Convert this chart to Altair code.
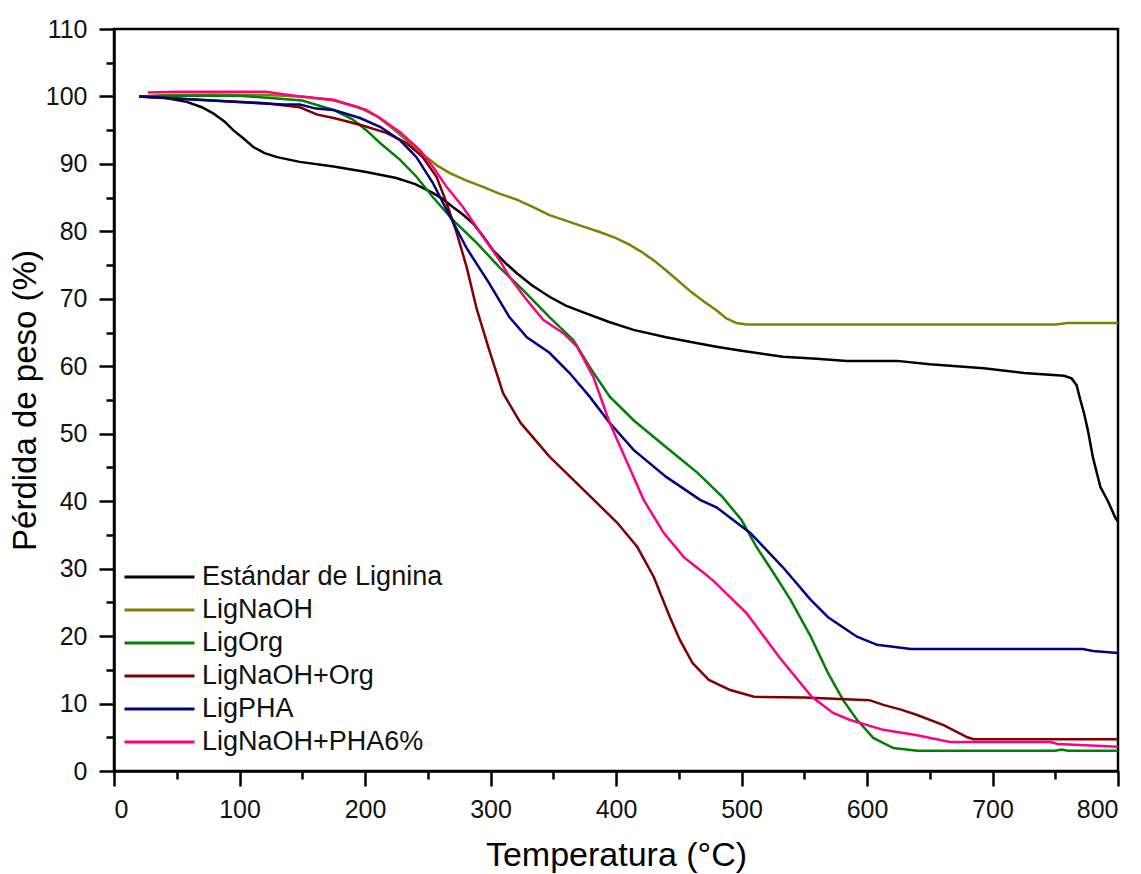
import altair as alt
import pandas as pd

names = ["Estándar de Lignina", "LigNaOH", "LigOrg", "LigNaOH+Org", "LigPHA", "LigNaOH+PHA6%"]
colors = ["#000000", "#808000", "#008000", "#800000", "#000080", "#FF0080"]

t_black = [20, 40, 58, 70, 79, 88, 95, 103, 111, 120, 130, 148, 175, 201, 225, 240, 254, 262, 270, 278,
           286, 294, 302, 312, 321, 333, 347, 360, 374, 394, 414, 440, 465, 480, 500, 533, 560, 584, 624,
           650, 693, 725, 757, 763, 767, 770, 773, 776, 780, 786, 792, 798, 800]
v_black = [100, 99.8, 99.2, 98.4, 97.5, 96.3, 95, 93.8, 92.5, 91.6, 91, 90.3, 89.6, 88.8, 87.9, 87, 85.7,
           84.8, 83.6, 82.5, 81.2, 79.3, 77.2, 75.3, 73.8, 72, 70.3, 69, 68, 66.6, 65.4, 64.3, 63.4, 62.9,
           62.3, 61.4, 61.1, 60.8, 60.8, 60.3, 59.7, 59.0, 58.6, 58.2, 57.2, 55, 53, 50.5, 46.5, 42.1, 40,
           37.5, 37]

t_olive = [20, 40, 80, 120, 150, 175, 195, 210, 217, 225, 233, 241, 249, 258, 268, 280, 294, 307, 321, 334,
           347, 360, 374, 387, 400, 410, 420, 430, 440, 450, 460, 470, 480, 488, 496, 504, 550, 600, 650,
           700, 750, 760, 780, 800]
v_olive = [100, 100.2, 100.3, 100.2, 100, 99.4, 98.4, 97, 96, 94.8, 93.5, 92.2, 91, 89.7, 88.6, 87.6,
           86.6, 85.6, 84.7, 83.6, 82.4, 81.6, 80.7, 79.9, 79, 78.1, 77, 75.7, 74.2, 72.6, 71, 69.6, 68.3,
           67.1, 66.4, 66.2, 66.2, 66.2, 66.2, 66.2, 66.2, 66.4, 66.4, 66.4]

t_green = [20, 50, 100, 150, 175, 190, 201, 212, 228, 241, 254, 270, 289, 307, 326, 347, 366, 379, 395,
           414, 440, 465, 485, 500, 512, 525, 539, 555, 569, 581, 592, 605, 621, 640, 700, 750, 755, 760,
           800]
v_green = [100, 100.1, 100.1, 99.4, 98, 96.6, 95, 93.1, 90.6, 88.1, 85.1, 81.7, 78.3, 74.7, 71.3, 67.3,
           63.9, 59.9, 55.5, 52, 48, 44.2, 40.6, 37.2, 33.2, 29.5, 25.4, 20, 14.5, 10.5, 7.6, 4.9, 3.4,
           3.0, 3.0, 3.0, 3.2, 3.0, 3.0]

t_brown = [20, 68, 121, 148, 162, 175, 196, 217, 233, 246, 257, 265, 273, 281, 289, 299, 310, 324, 347,
           374, 401, 417, 430, 443, 451, 461, 474, 491, 510, 550, 602, 613, 627, 640, 661, 680, 685, 700,
           800]
v_brown = [100, 99.5, 99, 98.4, 97.3, 96.8, 95.8, 94.6, 93.1, 91, 88.1, 84.2, 79.8, 74.7, 68.5, 62.4, 56,
           51.6, 46.6, 41.7, 36.8, 33.2, 28.8, 22.8, 19.4, 16, 13.5, 12, 11, 10.9, 10.5, 9.8, 9.1, 8.3,
           6.8, 5.0, 4.7, 4.7, 4.7]

t_blue = [20, 95, 135, 148, 161, 175, 196, 212, 228, 241, 254, 265, 281, 299, 315, 329, 347, 363, 379,
          395, 414, 440, 467, 480, 507, 533, 555, 569, 592, 608, 635, 700, 772, 780, 800]
v_blue = [100, 99.2, 98.8, 98.8, 98.2, 98, 96.8, 95.5, 93.5, 91, 87.2, 83.2, 77.5, 72.3, 67.3, 64.3, 62,
          59, 55.5, 51.6, 47.6, 43.6, 40.2, 39.1, 35.3, 30.2, 25.4, 22.8, 19.9, 18.7, 18.1, 18.1, 18.1,
          17.8, 17.5]

t_pink = [27, 50, 121, 148, 175, 201, 212, 228, 244, 254, 265, 278, 294, 307, 315, 329, 342, 358, 369,
          382, 395, 409, 422, 438, 454, 467, 477, 504, 530, 556, 573, 586, 613, 640, 666, 746, 752, 800]
v_pink = [100.6, 100.7, 100.7, 100, 99.5, 98, 96.8, 94.7, 92, 89.6, 86.6, 83.6, 79.2, 75.8, 73.3, 69.8,
          66.9, 64.9, 62.9, 58.4, 51.6, 45.7, 40.2, 35.3, 31.7, 29.8, 28.3, 23.4, 16.9, 11, 8.6, 7.6, 6.1,
          5.3, 4.3, 4.3, 4.0, 3.6]

x_ticks = list(range(0, 801, 50))
y_ticks = list(range(0, 111, 5))

series_t = [t_black, t_olive, t_green, t_brown, t_blue, t_pink]
series_v = [v_black, v_olive, v_green, v_brown, v_blue, v_pink]

rows = []
for name, ts, vs in zip(names, series_t, series_v):
    for t, v in zip(ts, vs):
        rows.append({"serie": name, "T": t, "v": v})
df = pd.DataFrame(rows)

FONT = "Liberation Sans"

chart = alt.Chart(df).mark_line(strokeWidth=2.5, clip=True).encode(
    x=alt.X(
        "T:Q",
        scale=alt.Scale(domain=[0, 800], nice=False, zero=False),
        axis=alt.Axis(
            values=x_ticks,
            title="Temperatura (°C)",
            labelExpr="datum.value % 100 === 0 ? datum.label : ''",
            tickSize={"condition": {"test": "datum.value % 100 === 0", "value": 15}, "value": 8},
            grid=False,
            domainColor="black", domainWidth=2.5,
            tickColor="black", tickWidth=2.5,
            labelFont=FONT, labelFontSize=25, labelColor="#111111", labelPadding=11,
            titleFont=FONT, titleFontSize=34, titleFontWeight="normal", titleColor="black",
            titlePadding=16,
        ),
    ),
    y=alt.Y(
        "v:Q",
        scale=alt.Scale(domain=[0, 110], nice=False, zero=False),
        axis=alt.Axis(
            values=y_ticks,
            title="Pérdida de peso (%)",
            labelExpr="datum.value % 10 === 0 ? datum.label : ''",
            tickSize={"condition": {"test": "datum.value % 10 === 0", "value": 15}, "value": 8},
            grid=False,
            domainColor="black", domainWidth=2.5,
            tickColor="black", tickWidth=2.5,
            labelFont=FONT, labelFontSize=25, labelColor="#111111", labelPadding=12,
            titleFont=FONT, titleFontSize=33, titleFontWeight="normal", titleColor="black",
            titlePadding=3,
        ),
    ),
    color=alt.Color(
        "serie:N",
        sort=names,
        scale=alt.Scale(domain=names, range=colors),
        legend=alt.Legend(
            title=None, orient="none", legendX=9, legendY=531.5,
            symbolType="stroke", symbolSize=4900, symbolStrokeWidth=3,
            clipHeight=33, rowPadding=0, padding=0, labelOffset=6,
            labelFont=FONT, labelFontSize=27, labelColor="#111111", labelLimit=0,
        ),
    ),
).properties(
    width=1004,
    height=742,
    padding={"left": 114, "top": 29, "right": 23, "bottom": 103},
    autosize=alt.AutoSizeParams(type="none"),
).configure_view(stroke="black", strokeWidth=2.5)

chart.save("out.html", embed_options={"renderer": "svg", "actions": False})
